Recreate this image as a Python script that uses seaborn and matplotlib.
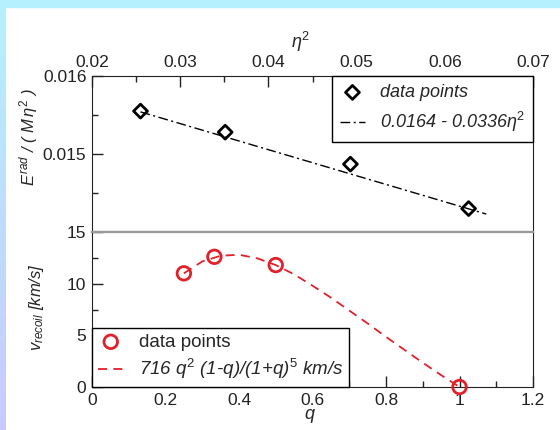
import matplotlib
matplotlib.use('Agg')
import matplotlib.pyplot as plt
from matplotlib.patches import Rectangle
from matplotlib.colors import LinearSegmentedColormap
import numpy as np
import seaborn as sns

# верхняя панель: E_rad / (M eta^2) от eta^2
eta2_points = [0.0255, 0.0351, 0.0493, 0.0627]
erad_points = [0.01555, 0.01528, 0.01487, 0.01430]
eta2_fit = [0.0255, 0.0647]
erad_fit = [0.01554, 0.01423]

# нижняя панель: скорость отдачи от q
q_points = [0.25, 0.333, 0.5, 1.0]
v_points = [11.0, 12.6, 11.8, 0.0]
q_curve = [0.25, 0.3, 0.35, 0.4, 0.45, 0.5, 0.55, 0.6, 0.65, 0.7,
           0.75, 0.8, 0.85, 0.9, 0.95, 1.0]
v_curve = [11.0, 12.15, 12.7, 12.8, 12.45, 11.8, 10.9, 9.8, 8.65, 7.4,
           6.15, 4.85, 3.6, 2.35, 1.15, 0.0]

# подписи делений
eta2_ticks = [0.02, 0.03, 0.04, 0.05, 0.06, 0.07]
eta2_labels = ['0.02', '0.03', '0.04', '0.05', '0.06', '0.07']
eta2_minor = [0.025, 0.035, 0.045, 0.055, 0.065]
erad_ticks = [0.015, 0.016]
erad_labels = ['0.015', '0.016']
erad_minor = [0.0145, 0.0155]
q_ticks = [0, 0.2, 0.4, 0.6, 0.8, 1.0, 1.2]
q_labels = ['0', '0.2', '0.4', '0.6', '0.8', '1', '1.2']
q_minor = [0.1, 0.3, 0.5, 0.7, 0.9, 1.1]
v_ticks = [0, 5, 10, 15]
v_labels = ['0', '5', '10', '15']
v_minor = [2.5, 7.5, 12.5]

sns.set_style('ticks')
plt.rcParams['font.family'] = ['Liberation Sans', 'DejaVu Sans']
plt.rcParams['mathtext.fontset'] = 'custom'
plt.rcParams['mathtext.rm'] = 'Liberation Sans'
plt.rcParams['mathtext.it'] = 'Liberation Sans:italic'

W, H = 560, 430
fig = plt.figure(figsize=(W / 100, H / 100), dpi=100)
fig.patch.set_facecolor('white')

# рамка слайда
fig.patches.append(Rectangle((0, 1 - 7 / H), 1, 7 / H, transform=fig.transFigure,
                             color='#b4f0ff', zorder=0))
bg = fig.add_axes([0, 0, 6 / W, 1 - 7 / H])
cmap = LinearSegmentedColormap.from_list('strip', ['#c8caff', '#b4f0ff'])
bg.imshow(np.linspace(0, 1, 100).reshape(-1, 1), cmap=cmap, aspect='auto',
          origin='lower', extent=[0, 1, 0, 1])
bg.set_axis_off()

left, right = 92 / W, 533 / W
ax1 = fig.add_axes([left, 1 - 232 / H, right - left, 156 / H])
ax2 = fig.add_axes([left, 1 - 387 / H, right - left, 155 / H])

spine_col = '#222222'
red = '#e3202a'

# ---- верхняя панель ----
sns.lineplot(x=eta2_fit, y=erad_fit, ax=ax1, color='black', linewidth=1,
             linestyle=(0, (7, 2.5, 1.5, 2.5)), label='0.0164 - 0.0336$\\eta^2$',
             zorder=2)
sns.scatterplot(x=eta2_points, y=erad_points, ax=ax1, marker='D', s=50,
                facecolors='none', edgecolor='black', linewidth=2,
                label='data points', zorder=3)
ax1.xaxis.tick_top()
ax1.xaxis.set_label_position('top')
ax1.set_xticks(eta2_ticks, eta2_labels)
ax1.set_xticks(eta2_minor, minor=True)
ax1.set_yticks(erad_ticks, erad_labels)
ax1.set_yticks(erad_minor, minor=True)
ax1.set_xlim(0.02, 0.07)
ax1.set_ylim(0.014, 0.016)
ax1.tick_params(which='both', direction='in', colors=spine_col, labelsize=12.5,
                top=True, bottom=False, right=False, pad=4)
ax1.tick_params(which='major', length=8, width=1)
ax1.tick_params(which='minor', length=4.5, width=1)
ax1.set_xlabel('$\\eta^2$', fontsize=13)
ax1.xaxis.set_label_coords(0.472, 1.18)
ax1.set_ylabel('$E^{rad}$ / ( $M\\,\\eta^2$ )', fontsize=12, fontstyle='italic')
ax1.yaxis.set_label_coords(-0.118, 0.61)
for s in ['top', 'left', 'right']:
    ax1.spines[s].set_color(spine_col)
ax1.spines['bottom'].set_color('#999999')
ax1.spines['bottom'].set_linewidth(1.6)

h, l = ax1.get_legend_handles_labels()
leg1 = ax1.legend([h[1], h[0]], [l[1], l[0]], loc='upper right', borderaxespad=0,
                  fancybox=False, edgecolor='black', framealpha=1,
                  prop={'style': 'italic', 'size': 13}, handlelength=1.4,
                  handletextpad=0.8, borderpad=0.45, labelspacing=0.5)
leg1.get_frame().set_linewidth(1)

# ---- нижняя панель ----
sns.lineplot(x=q_curve, y=v_curve, ax=ax2, color=red, linewidth=1.3,
             linestyle=(0, (5, 3.5)),
             label='716 $q^2$ (1-q)/(1+q)$^5$ km/s', zorder=2)
sns.scatterplot(x=q_points, y=v_points, ax=ax2, marker='o', s=95,
                facecolors='none', edgecolor=red, linewidth=2,
                label='data points', zorder=3, clip_on=False)
ax2.set_xticks(q_ticks, q_labels)
ax2.set_xticks(q_minor, minor=True)
ax2.set_yticks(v_ticks, v_labels)
ax2.set_yticks(v_minor, minor=True)
ax2.set_xlim(0, 1.2)
ax2.set_ylim(0, 15)
ax2.tick_params(which='both', direction='in', colors=spine_col, labelsize=12.5,
                top=False, right=False, pad=4)
ax2.tick_params(which='major', length=8, width=1)
ax2.tick_params(which='minor', length=4.5, width=1)
ax2.set_xlabel('q', fontsize=13, fontstyle='italic')
ax2.xaxis.set_label_coords(0.494, -0.125)
ax2.set_ylabel('$v_{recoil}$ [km/s]', fontsize=12, fontstyle='italic')
ax2.yaxis.set_label_coords(-0.104, 0.516)
for s in ['bottom', 'left', 'right']:
    ax2.spines[s].set_color(spine_col)
ax2.spines['top'].set_color('#999999')
ax2.spines['top'].set_linewidth(1.6)

h, l = ax2.get_legend_handles_labels()
leg2 = ax2.legend([h[1], h[0]], [l[1], l[0]], loc='lower left', borderaxespad=0,
                  fancybox=False, edgecolor='black', framealpha=1,
                  prop={'size': 13.5}, handlelength=1.4, handletextpad=0.8,
                  borderpad=0.3, labelspacing=0.35)
leg2.get_frame().set_linewidth(1)
leg2.get_texts()[1].set_fontstyle('italic')

fig.savefig('out.png', dpi=100)
